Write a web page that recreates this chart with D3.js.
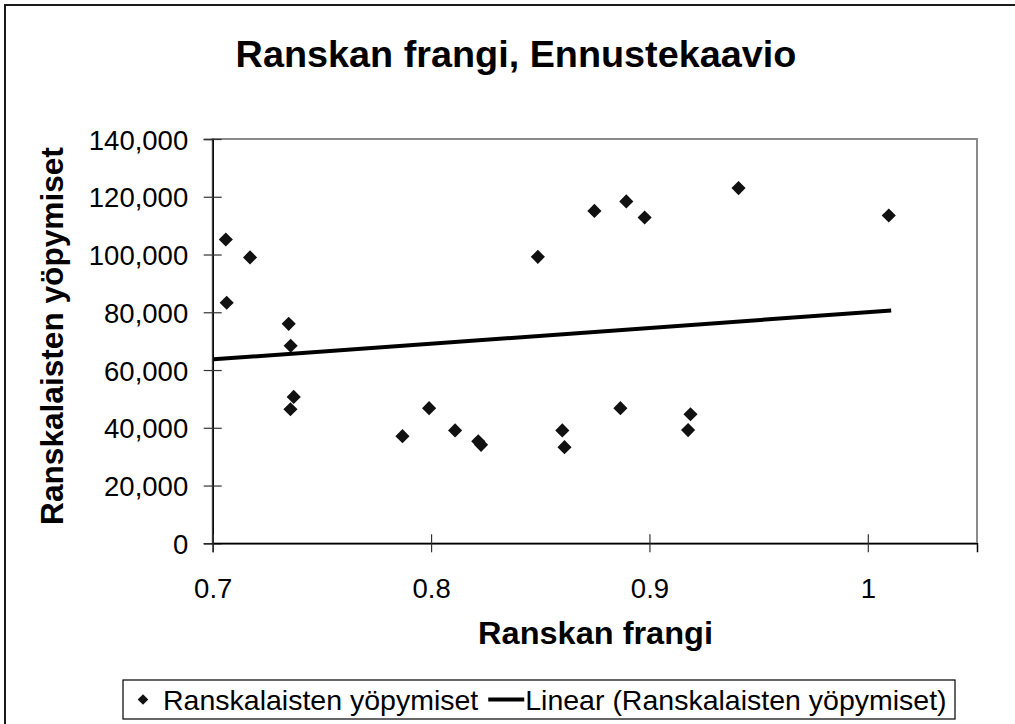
<!DOCTYPE html>
<html>
<head>
<meta charset="utf-8">
<script src="https://cdn.jsdelivr.net/npm/d3@7"></script>
<style>
  html, body { margin: 0; padding: 0; background: #fff; }
  svg { display: block; }
  text { font-family: Arial, "Liberation Sans", sans-serif; fill: #000; }
</style>
</head>
<body>
<svg id="chart" width="1015" height="724"></svg>
<script>
// ---- data ----
const titleText = "Ranskan frangi, Ennustekaavio";
const xTitle = "Ranskan frangi";
const yTitle = "Ranskalaisten yöpymiset";
const seriesName = "Ranskalaisten yöpymiset";
const trendName = "Linear (Ranskalaisten yöpymiset)";

const frangi = [0.706, 0.7064, 0.7171, 0.7348, 0.7357, 0.7371, 0.7356, 0.7869, 0.7991, 0.8110,
                0.8216, 0.8229, 0.8489, 0.8601, 0.8611, 0.8748, 0.8867, 0.8894, 0.8978, 0.9177,
                0.9188, 0.9408, 1.0096];
const yopymiset = [105200, 83300, 99000, 76000, 68400, 50700, 46400, 37100, 46800, 39100,
                   35300, 34100, 99200, 39100, 33300, 115100, 46800, 118400, 112800, 39200,
                   44700, 123000, 113500];
const trendX = [0.7004, 1.0107];
const trendY = [63700, 80600];

const xTicks = [0.7, 0.8, 0.9, 1];
const yTicks = [0, 20000, 40000, 60000, 80000, 100000, 120000, 140000];
const xDomain = [0.7, 1.05];
const yDomain = [0, 140000];

// ---- layout ----
const svg = d3.select("#chart");
const plot = { left: 212.7, right: 977, top: 139, bottom: 543.3 };

const x = d3.scaleLinear().domain(xDomain).range([plot.left, plot.right]);
const y = d3.scaleLinear().domain(yDomain).range([plot.bottom, plot.top]);

// outer chart border
svg.append("rect")
  .attr("x", 5).attr("y", 5).attr("width", 1030).attr("height", 740)
  .attr("fill", "#fff").attr("stroke", "#1a1a1a").attr("stroke-width", 2);

// plot area
svg.append("rect")
  .attr("x", plot.left).attr("y", plot.top)
  .attr("width", plot.right - plot.left).attr("height", plot.bottom - plot.top)
  .attr("fill", "#fff").attr("stroke", "#8a8a8a").attr("stroke-width", 2);

function place(sel, sx) {
  sel.each(function () {
    const t = d3.select(this);
    const tx = +t.attr("data-x"), ty = +t.attr("data-y");
    const rot = t.attr("data-rot") || 0;
    t.attr("transform", `translate(${tx},${ty}) rotate(${rot}) scale(${sx},1)`);
  });
}
function fitText(sel, target) {
  const w = sel.node().getComputedTextLength();
  place(sel, target / w);
}

const tickFont = 27.5;

// y axis
const gy = svg.append("g").attr("transform", `translate(${plot.left},0)`)
  .call(d3.axisLeft(y).tickValues(yTicks).tickSize(9).tickPadding(0).tickFormat(d3.format(",")));
gy.select(".domain").attr("stroke", "#000").attr("stroke-width", 1.5);
gy.selectAll(".tick line").attr("stroke", "#333").attr("stroke-width", 1.2);
gy.selectAll(".tick text")
  .attr("x", null).attr("dy", null)
  .attr("data-x", -24.5).attr("data-y", 10)
  .attr("font-size", tickFont).attr("text-anchor", "end").attr("font-family", null)
  .call(place, 1);
const gyIn = svg.append("g").attr("transform", `translate(${plot.left},0)`)
  .call(d3.axisLeft(y).tickValues(yTicks).tickSize(-9).tickFormat(""));
gyIn.select(".domain").remove();
gyIn.selectAll(".tick line").attr("stroke", "#333").attr("stroke-width", 1.2);

// x axis
const gx = svg.append("g").attr("transform", `translate(0,${plot.bottom})`)
  .call(d3.axisBottom(x).tickValues(xTicks).tickSize(9).tickPadding(0).tickFormat(d => String(d)));
gx.select(".domain").attr("stroke", "#000").attr("stroke-width", 1.5);
gx.selectAll(".tick line").attr("stroke", "#333").attr("stroke-width", 1.2);
gx.selectAll(".tick text")
  .attr("y", null).attr("dy", null)
  .attr("data-x", 0).attr("data-y", 55)
  .attr("font-size", tickFont).attr("text-anchor", "middle").attr("font-family", null)
  .call(place, 1);
const gxIn = svg.append("g").attr("transform", `translate(0,${plot.bottom})`)
  .call(d3.axisBottom(x).tickValues(xTicks).tickSize(-9).tickFormat(""));
gxIn.select(".domain").remove();
gxIn.selectAll(".tick line").attr("stroke", "#333").attr("stroke-width", 1.2);

// trendline
svg.append("path")
  .datum(trendX.map((d, i) => [d, trendY[i]]))
  .attr("fill", "none").attr("stroke", "#000").attr("stroke-width", 4)
  .attr("d", d3.line().x(d => x(d[0])).y(d => y(d[1])));

// points (diamonds)
const diamond = d3.symbol().type(d3.symbolSquare).size(100);
svg.append("g").selectAll("path")
  .data(frangi.map((d, i) => [d, yopymiset[i]]))
  .join("path")
  .attr("d", diamond)
  .attr("fill", "#111")
  .attr("transform", d => `translate(${x(d[0])},${y(d[1])}) rotate(45)`);

// titles
const title = svg.append("text").text(titleText)
  .attr("font-size", 37).attr("font-weight", "bold").attr("text-anchor", "middle")
  .attr("data-x", 516).attr("data-y", 67);
fitText(title, 561);

const xt = svg.append("text").text(xTitle)
  .attr("font-size", 32).attr("font-weight", "bold").attr("text-anchor", "middle")
  .attr("data-x", 595.5).attr("data-y", 644);
fitText(xt, 235);

const yt = svg.append("text").text(yTitle)
  .attr("font-size", 31.5).attr("font-weight", "bold").attr("text-anchor", "middle")
  .attr("data-x", 63).attr("data-y", 336).attr("data-rot", -90);
fitText(yt, 378);

// legend
const legBox = { x: 123, y: 680, w: 832, h: 39 };
const legFont = 28.5;
const leg = svg.append("g");
leg.append("rect").attr("x", legBox.x).attr("y", legBox.y).attr("width", legBox.w).attr("height", legBox.h)
  .attr("fill", "#fff").attr("stroke", "#000").attr("stroke-width", 1.2);
const cy = legBox.y + legBox.h / 2;
leg.append("path").attr("d", d3.symbol().type(d3.symbolSquare).size(56))
  .attr("fill", "#111").attr("transform", `translate(${legBox.x + 20},${cy}) rotate(45)`);
const lt1 = leg.append("text").text(seriesName).attr("font-size", legFont)
  .attr("data-x", legBox.x + 40).attr("data-y", cy + 10).call(place, 1);
const w1 = lt1.node().getComputedTextLength();
const lineX0 = legBox.x + 40 + w1 + 10;
leg.append("line").attr("x1", lineX0).attr("x2", lineX0 + 36)
  .attr("y1", cy).attr("y2", cy).attr("stroke", "#000").attr("stroke-width", 4);
leg.append("text").text(trendName).attr("font-size", legFont)
  .attr("data-x", lineX0 + 37).attr("data-y", cy + 10).call(place, 1);
</script>
</body>
</html>
